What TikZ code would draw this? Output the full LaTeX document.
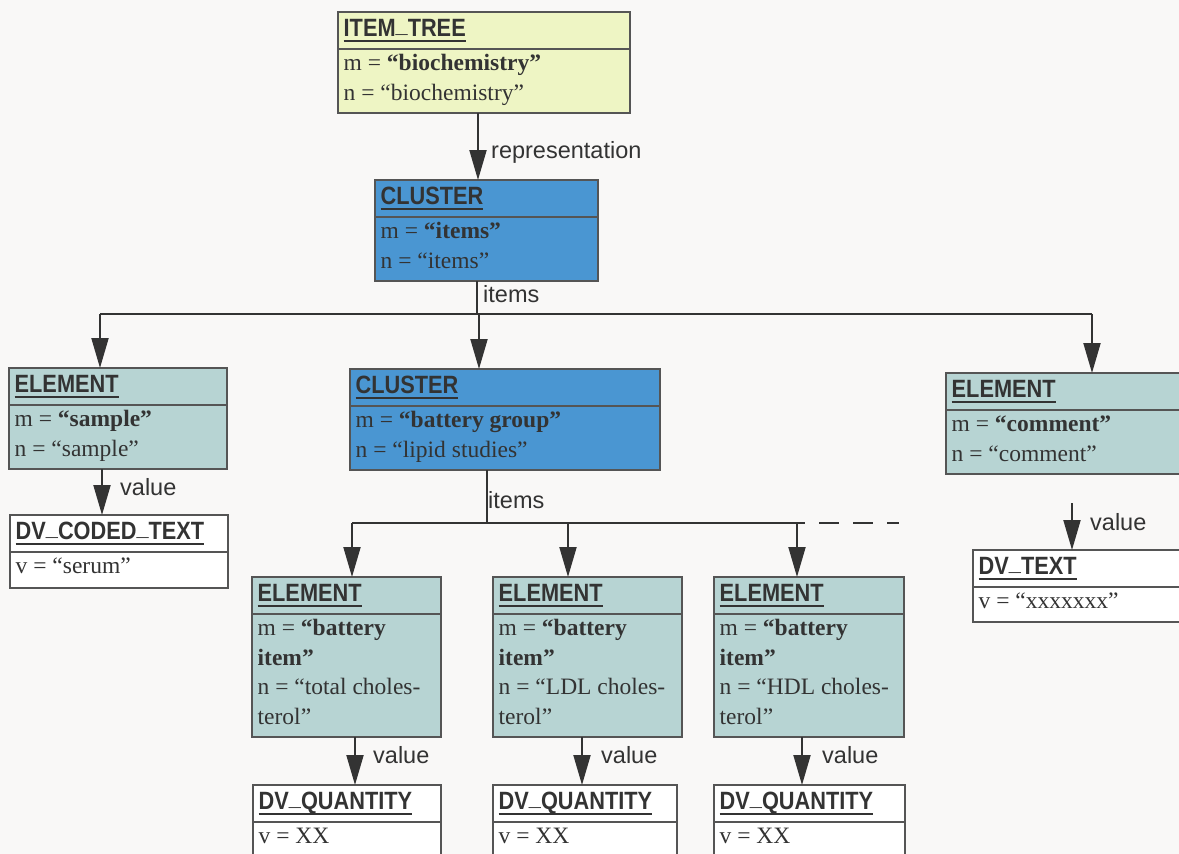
\documentclass[tikz,border=0pt]{standalone}
\usepackage{fontspec}
\setmainfont{Liberation Serif}
\newfontfamily\hdrfont[FakeStretch=0.87]{Liberation Sans}
\newfontfamily\lblfont{Liberation Sans}
\usetikzlibrary{arrows.meta}

\definecolor{bg}{RGB}{249,248,247}
\definecolor{ink}{RGB}{51,51,51}
\definecolor{edge}{RGB}{85,85,85}
\definecolor{treefill}{RGB}{238,245,196}
\definecolor{clusterfill}{RGB}{74,150,210}
\definecolor{elemfill}{RGB}{183,212,211}
\definecolor{valuefill}{RGB}{255,255,255}

% underlined class name in the header compartment
\newcommand\uhdr[1]{\sbox0{#1}\rlap{\usebox0}\rule[-6.3pt]{\wd0}{2pt}}
% underscore sitting on the baseline
\newcommand\us{\raisebox{3.2pt}{\_}}

% class box: name, x, y (top left), width, height, fill, class name
\newcommand\classbox[7]{%
  \node[box, fill=#6, minimum width=#4pt, minimum height=#5pt] (#1) at (#2,#3) {};
  \draw[rule] ([yshift=-37pt]#1.north west) -- ([yshift=-37pt]#1.north east);
  \node[hdr] (#1-hdr) at ([xshift=5.5pt,yshift=-24pt]#1.north west) {\uhdr{#7}};}

% attribute line: box, line number, text
\newcommand\attr[3]{%
  \node[attr] (#1-#2) at ([xshift=5.5pt,yshift={-29.5pt*#2-29pt}]#1.north west) {#3};}

\tikzset{
  box/.style={draw=edge, line width=1.2pt, inner sep=0pt, outer sep=0pt, anchor=north west},
  rule/.style={draw=edge, line width=1.2pt},
  hdr/.style={anchor=base west, inner sep=0pt, text=ink, font=\hdrfont\bfseries\fontsize{25}{30}\selectfont},
  attr/.style={anchor=base west, inner sep=0pt, text=ink, font=\fontsize{23.5}{29.5}\selectfont},
  lbl/.style={anchor=base west, inner sep=0pt, text=ink, font=\lblfont\fontsize{23.5}{28}\selectfont},
  link/.style={draw=ink, line width=2pt},
  arr/.style={link, -{Triangle[length=30pt,width=17pt]}},
}

\begin{document}
\begin{tikzpicture}[x=1pt, y=-1pt]
\useasboundingbox (0,0) rectangle (1179,854);
\clip (0,0) rectangle (1179,854);
\fill[bg] (0,0) rectangle (1179,854);

% ---- boxes ----
\classbox{it}{338}{12}{292}{101}{treefill}{ITEM\us TREE}
\attr{it}{1}{m = \textbf{“biochemistry”}}
\attr{it}{2}{n = “biochemistry”}

\classbox{cl1}{375}{180}{223}{101}{clusterfill}{CLUSTER}
\attr{cl1}{1}{m = \textbf{“items”}}
\attr{cl1}{2}{n = “items”}

\classbox{el1}{9}{368}{218}{101}{elemfill}{ELEMENT}
\attr{el1}{1}{m = \textbf{“sample”}}
\attr{el1}{2}{n = “sample”}

\classbox{dvc}{10}{515}{218}{73}{valuefill}{DV\us CODED\us TEXT}
\attr{dvc}{1}{v = “serum”}

\classbox{cl2}{350}{369}{310}{101}{clusterfill}{CLUSTER}
\attr{cl2}{1}{m = \textbf{“battery group”}}
\attr{cl2}{2}{n = “lipid studies”}

\classbox{el3}{946}{373}{260}{101}{elemfill}{ELEMENT}
\attr{el3}{1}{m = \textbf{“comment”}}
\attr{el3}{2}{n = “comment”}

\classbox{dvt}{973}{550}{230}{72}{valuefill}{DV\us TEXT}
\attr{dvt}{1}{v = “xxxxxxx”}

\classbox{b1}{252}{577}{189}{160}{elemfill}{ELEMENT}
\attr{b1}{1}{m = \textbf{“battery}}
\attr{b1}{2}{\textbf{item”}}
\attr{b1}{3}{n = “total choles-}
\attr{b1}{4}{terol”}

\classbox{b2}{493}{577}{189}{160}{elemfill}{ELEMENT}
\attr{b2}{1}{m = \textbf{“battery}}
\attr{b2}{2}{\textbf{item”}}
\attr{b2}{3}{n = “LDL choles-}
\attr{b2}{4}{terol”}

\classbox{b3}{714}{577}{190}{160}{elemfill}{ELEMENT}
\attr{b3}{1}{m = \textbf{“battery}}
\attr{b3}{2}{\textbf{item”}}
\attr{b3}{3}{n = “HDL choles-}
\attr{b3}{4}{terol”}

\classbox{q1}{253}{785}{188}{90}{valuefill}{DV\us QUANTITY}
\attr{q1}{1}{v = XX}
\classbox{q2}{493}{785}{184}{90}{valuefill}{DV\us QUANTITY}
\attr{q2}{1}{v = XX}
\classbox{q3}{714}{785}{191}{90}{valuefill}{DV\us QUANTITY}
\attr{q3}{1}{v = XX}

% ---- connectors ----
\draw[arr] (478,0 |- it.south) -- (478,0 |- cl1.north);
\node[lbl] (lrep) at (491,158) {representation};

\coordinate (j1) at (477,314);
\coordinate (busL) at (100,314);
\coordinate (busM) at (479,314);
\coordinate (busR) at (1092,314);
\draw[link] (477,0 |- cl1.south) -- (j1);
\node[lbl] (litems1) at (483,302) {items};
\draw[link] (busL) -- (busR);
\draw[arr] (busL) -- (busL |- el1.north);
\draw[arr] (busM) -- (busM |- cl2.north);
\draw[arr] (busR) -- (busR |- el3.north);

\draw[arr] (102,0 |- el1.south) -- (102,0 |- dvc.north);
\node[lbl] (lval1) at (120,495) {value};

\coordinate (j2) at (487,523);
\coordinate (bus2L) at (352,523);
\coordinate (bus2M) at (568,523);
\coordinate (bus2R) at (797,523);
\coordinate (bus2E) at (899,523);
\draw[link] (487,0 |- cl2.south) -- (j2);
\node[lbl] (litems2) at (488,508) {items};
\draw[link] (bus2L) -- (bus2R);
\draw[link, dash pattern=on 20pt off 14pt, dash phase=12pt] (bus2R) -- (bus2E);
\draw[arr] (bus2L) -- (bus2L |- b1.north);
\draw[arr] (bus2M) -- (bus2M |- b2.north);
\draw[arr] (bus2R) -- (bus2R |- b3.north);

\draw[arr] (355,0 |- b1.south) -- (355,0 |- q1.north);
\node[lbl] (lval2) at (373,763) {value};
\draw[arr] (582,0 |- b2.south) -- (582,0 |- q2.north);
\node[lbl] (lval3) at (601,763) {value};
\draw[arr] (802,0 |- b3.south) -- (802,0 |- q3.north);
\node[lbl] (lval4) at (822,763) {value};

\coordinate (v3) at (1072,503);
\draw[arr] (v3) -- (v3 |- dvt.north);
\node[lbl] (lval5) at (1090,530) {value};
\end{tikzpicture}
\end{document}
